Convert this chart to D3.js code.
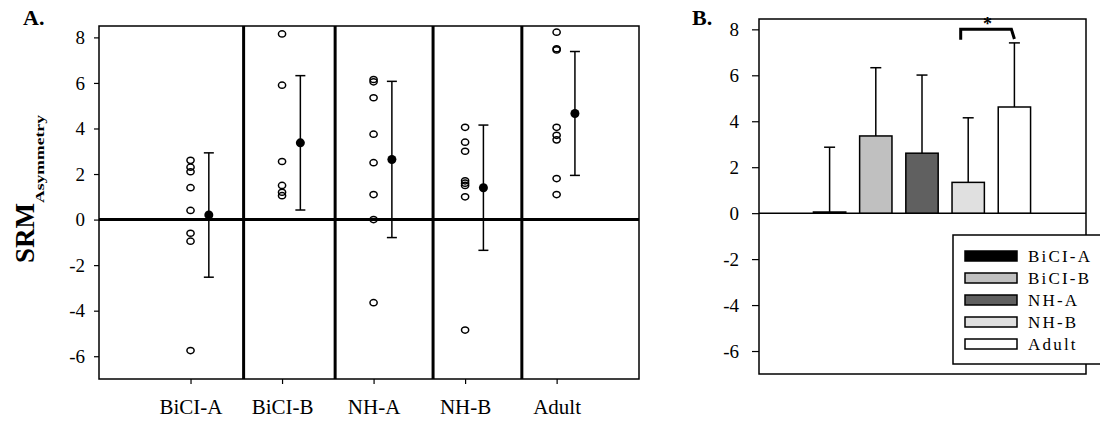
<!DOCTYPE html>
<html>
<head>
<meta charset="utf-8">
<script src="https://cdn.jsdelivr.net/npm/d3@7"></script>
<style>
  body { margin: 0; background: #fff; }
  svg { display: block; font-family: "Liberation Serif", "Times New Roman", serif; }
  .frame { fill: none; stroke: #000; stroke-width: 1.5; }
</style>
</head>
<body>
<svg id="chart" width="1100" height="423"></svg>
<script>
// groups shared by both panels
const categories = ["BiCI-A", "BiCI-B", "NH-A", "NH-B", "Adult"];

// panel A: individual SRM asymmetry scores per group
const pointsBiCIA = [2.6, 2.3, 2.1, 1.4, 0.4, -0.6, -0.95, -5.75];
const pointsBiCIB = [8.15, 5.9, 2.55, 1.5, 1.2, 1.05];
const pointsNHA = [6.15, 6.05, 5.35, 3.75, 2.5, 1.1, 0.0, -3.65];
const pointsNHB = [4.05, 3.4, 3.0, 1.7, 1.6, 1.5, 1.0, -4.85];
const pointsAdult = [8.23, 7.5, 7.45, 4.05, 3.7, 3.5, 1.8, 1.1];
const groupPoints = [pointsBiCIA, pointsBiCIB, pointsNHA, pointsNHB, pointsAdult];

// panel A: group mean and SD
const meanA = [0.2, 3.37, 2.64, 1.4, 4.66];
const sdA = [2.73, 2.95, 3.43, 2.75, 2.72];
// panel A: divider positions between groups (x units)
const dividers = [1.58, 2.58, 3.65, 4.62];

// panel B: bar means and SD
const barMeans = [0.05, 3.36, 2.61, 1.34, 4.62];
const barSd = [2.82, 2.97, 3.4, 2.81, 2.79];
const barColors = ["#000000", "#c0c0c0", "#606060", "#e0e0e0", "#ffffff"];

const yTicks = [-6, -4, -2, 0, 2, 4, 6, 8];
const hyphenFmt = d => String(d); // plain hyphen minus, like the original

const svg = d3.select("#chart");

// ---------- Panel A ----------
const A = { left: 99, right: 639, top: 26, bottom: 379 };
const xA = d3.scaleLinear().domain([0, 5.9]).range([A.left, A.right]);
const yA = d3.scaleLinear().domain([-7, 8.5]).range([A.bottom, A.top]);

const gA = svg.append("g");

gA.append("g")
  .attr("transform", `translate(${A.left},0)`)
  .call(d3.axisLeft(yA).tickValues(yTicks).tickSize(5).tickPadding(9).tickFormat(hyphenFmt))
  .call(g => g.select(".domain").remove())
  .call(g => g.selectAll("line").attr("stroke-width", 1.2))
  .call(g => g.selectAll("text").attr("font-size", 19).attr("font-family", "Liberation Serif").attr("fill", "#000"));

gA.append("g")
  .attr("transform", `translate(0,${A.bottom})`)
  .call(d3.axisBottom(xA).tickValues([1, 2, 3, 4, 5]).tickSize(5).tickPadding(15)
    .tickFormat((d, i) => categories[i]))
  .call(g => g.select(".domain").remove())
  .call(g => g.selectAll("line").attr("stroke-width", 1.2))
  .call(g => g.selectAll("text").attr("font-size", 21).attr("font-family", "Liberation Serif").attr("fill", "#000"));

gA.append("rect").attr("class", "frame")
  .attr("x", A.left).attr("y", A.top)
  .attr("width", A.right - A.left).attr("height", A.bottom - A.top);

// thick group dividers and zero line
gA.selectAll(".divider").data(dividers).join("line")
  .attr("x1", d => xA(d)).attr("x2", d => xA(d))
  .attr("y1", A.top).attr("y2", A.bottom)
  .attr("stroke", "#000").attr("stroke-width", 3);

gA.append("line")
  .attr("x1", A.left).attr("x2", A.right)
  .attr("y1", yA(0)).attr("y2", yA(0))
  .attr("stroke", "#000").attr("stroke-width", 3);

// individual points (open circles)
groupPoints.forEach((pts, i) => {
  gA.append("g").selectAll("ellipse").data(pts).join("ellipse")
    .attr("cx", xA(i + 1))
    .attr("cy", d => yA(d))
    .attr("rx", 3.6).attr("ry", 3.1)
    .attr("fill", "none").attr("stroke", "#000").attr("stroke-width", 1.5);
});

// mean +/- SD
const meanOffset = 0.2;
const errA = gA.append("g").selectAll("g").data(categories).join("g");
errA.append("line")
  .attr("x1", (d, i) => xA(i + 1 + meanOffset)).attr("x2", (d, i) => xA(i + 1 + meanOffset))
  .attr("y1", (d, i) => yA(meanA[i] - sdA[i])).attr("y2", (d, i) => yA(meanA[i] + sdA[i]))
  .attr("stroke", "#000").attr("stroke-width", 1.5);
[1, -1].forEach(s => {
  errA.append("line")
    .attr("x1", (d, i) => xA(i + 1 + meanOffset) - 5).attr("x2", (d, i) => xA(i + 1 + meanOffset) + 5)
    .attr("y1", (d, i) => yA(meanA[i] + s * sdA[i])).attr("y2", (d, i) => yA(meanA[i] + s * sdA[i]))
    .attr("stroke", "#000").attr("stroke-width", 1.5);
});
errA.append("circle")
  .attr("cx", (d, i) => xA(i + 1 + meanOffset))
  .attr("cy", (d, i) => yA(meanA[i]))
  .attr("r", 4.5).attr("fill", "#000");

// y title
const yTitle = svg.append("text")
  .attr("transform", "translate(34,263) rotate(-90)")
  .attr("font-weight", "bold").attr("fill", "#000");
yTitle.append("tspan").attr("font-size", 27).text("SRM");
yTitle.append("tspan").attr("font-size", 12).attr("dy", 10)
  .attr("textLength", 88).attr("lengthAdjust", "spacingAndGlyphs").text("Asymmetry");

svg.append("text").attr("x", 23).attr("y", 25)
  .attr("font-size", 22).attr("font-weight", "bold").text("A.");

// ---------- Panel B ----------
const B = { left: 759, right: 1086, top: 19, bottom: 374 };
const xB = d3.scaleBand().domain(categories).range([806.5, 1037.5]).paddingInner(0.3).paddingOuter(0.15);
const yB = d3.scaleLinear().domain([-7, 8.45]).range([B.bottom, B.top]);

const gB = svg.append("g");

gB.append("g")
  .attr("transform", `translate(${B.left},0)`)
  .call(d3.axisLeft(yB).tickValues(yTicks).tickSize(7).tickPadding(13).tickFormat(hyphenFmt))
  .call(g => g.select(".domain").remove())
  .call(g => g.selectAll("line").attr("stroke-width", 1.2))
  .call(g => g.selectAll("text").attr("font-size", 19).attr("font-family", "Liberation Serif").attr("fill", "#000"));

gB.append("rect").attr("class", "frame")
  .attr("x", B.left).attr("y", B.top)
  .attr("width", B.right - B.left).attr("height", B.bottom - B.top);

gB.append("line")
  .attr("x1", B.left).attr("x2", B.right)
  .attr("y1", yB(0)).attr("y2", yB(0))
  .attr("stroke", "#000").attr("stroke-width", 1.5);

// error bars (upper only) drawn behind the bars
const errB = gB.append("g").selectAll("g").data(categories).join("g");
errB.append("line")
  .attr("x1", d => xB(d) + xB.bandwidth() / 2).attr("x2", d => xB(d) + xB.bandwidth() / 2)
  .attr("y1", (d, i) => yB(barMeans[i])).attr("y2", (d, i) => yB(barMeans[i] + barSd[i]))
  .attr("stroke", "#000").attr("stroke-width", 1.5);
errB.append("line")
  .attr("x1", d => xB(d) + xB.bandwidth() / 2 - 5.5).attr("x2", d => xB(d) + xB.bandwidth() / 2 + 5.5)
  .attr("y1", (d, i) => yB(barMeans[i] + barSd[i])).attr("y2", (d, i) => yB(barMeans[i] + barSd[i]))
  .attr("stroke", "#000").attr("stroke-width", 1.5);

gB.append("g").selectAll("rect").data(categories).join("rect")
  .attr("x", d => xB(d))
  .attr("width", xB.bandwidth())
  .attr("y", (d, i) => yB(barMeans[i]))
  .attr("height", (d, i) => yB(0) - yB(barMeans[i]))
  .attr("fill", (d, i) => barColors[i])
  .attr("stroke", "#000").attr("stroke-width", 1.5);

// significance bracket NH-B vs Adult
const bx1 = xB("NH-B") + xB.bandwidth() / 2 - 7.5;
const bx2 = xB("Adult") + xB.bandwidth() / 2;
gB.append("path")
  .attr("d", `M${bx1},${yB(7.55)}L${bx1},${yB(8)}L${bx2 - 3},${yB(8)}L${bx2},${yB(7.58)}`)
  .attr("fill", "none").attr("stroke", "#000").attr("stroke-width", 3);
gB.append("text")
  .attr("x", (bx1 + bx2) / 2).attr("y", yB(8) + 1)
  .attr("text-anchor", "middle").attr("font-size", 18).attr("font-weight", "bold").text("*");

// legend
const leg = gB.append("g").attr("transform", "translate(953,235)");
leg.append("rect").attr("width", 160).attr("height", 129)
  .attr("fill", "#fff").attr("stroke", "#000").attr("stroke-width", 1.5);
const legRows = leg.selectAll(".row").data(categories).join("g")
  .attr("transform", (d, i) => `translate(0,${21 + i * 22})`);
legRows.append("rect")
  .attr("x", 12).attr("y", -5).attr("width", 52).attr("height", 10)
  .attr("fill", (d, i) => barColors[i]).attr("stroke", "#000").attr("stroke-width", 1.5);
legRows.append("text")
  .attr("x", 75).attr("y", 6)
  .attr("font-size", 17).attr("letter-spacing", 2.2).text(d => d);

svg.append("text").attr("x", 692).attr("y", 25)
  .attr("font-size", 22).attr("font-weight", "bold").text("B.");
</script>
</body>
</html>
